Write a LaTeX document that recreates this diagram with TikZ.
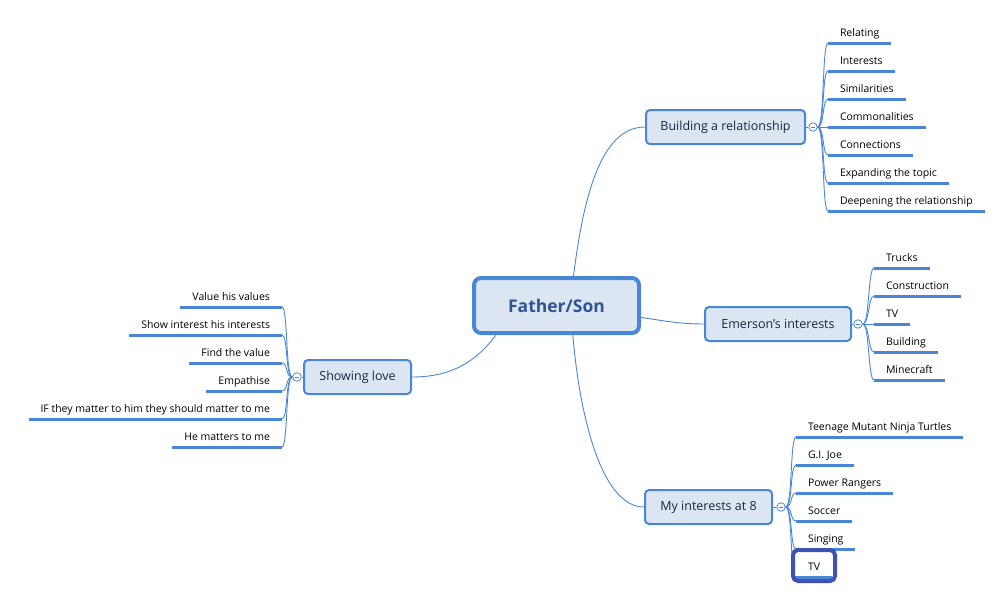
\documentclass[tikz,border=0pt]{standalone}
\usepackage{fontspec}
\setmainfont{Open Sans}
\usetikzlibrary{calc}

\definecolor{mapblue}{RGB}{74,134,216}
\definecolor{boxfill}{RGB}{220,230,242}
\definecolor{roottext}{RGB}{47,84,150}
\definecolor{topictext}{RGB}{28,38,66}
\definecolor{selblue}{RGB}{63,81,181}

\begin{document}
\begin{tikzpicture}[x=1pt, y=-1pt,
    topic/.style={draw=mapblue, line width=2, rounded corners=4, fill=boxfill,
      minimum height=34, inner sep=0, text=topictext,
      font=\fontsize{12.5}{14}\selectfont},
    fold/.style={circle, draw=mapblue, fill=white, line width=0.8,
      minimum size=8.5, inner sep=0,
      path picture={\draw [mapblue, line width=0.7]
        ($(path picture bounding box.center)+(-2.3,0)$) --
        ($(path picture bounding box.center)+(2.3,0)$);}},
    link/.style={draw=mapblue, line width=0.9},
    uline/.style={draw=mapblue, line width=3},
    leaf/.style={inner xsep=12, inner ysep=4, outer sep=0, text height=8,
      text depth=2.5, font=\fontsize{10.5}{12}\selectfont,
      append after command={(\tikzlastnode.south west) edge [uline]
        (\tikzlastnode.south east)}},
    rleaf/.style={leaf, anchor=south west},
    lleaf/.style={leaf, anchor=south east}]

      \useasboundingbox (0,0) rectangle (1002,592);

      \node (root) at (556.5,305.5)
      [draw=mapblue, line width=4, rounded corners=7, fill=boxfill,
      minimum width=165, minimum height=55, inner sep=0, text=roottext,
      font=\bfseries\fontsize{17.5}{20}\selectfont]
      {Father/Son};

      \node (bldg) at (725.5,127) [topic, minimum width=159] {Building a relationship};
      \node (emer) at (778,324) [topic, minimum width=146] {Emerson{\char"27}s interests};
      \node (mine) at (708.5,507) [topic, minimum width=127] {My interests at 8};
      \node (love) at (357.5,377) [topic, minimum width=107] {Showing love};

      \draw [link] (root.60) .. controls (583,200) and (600,127) .. (bldg.west);
      \draw [link] (root.-8) .. controls (665,321) and (680,324) .. (emer.west);
      \draw [link] (root.-61) .. controls (579,410) and (600,507) .. (mine.west);
      \draw [link] (root.-154) .. controls (470,370) and (440,377) .. (love.east);

      \node (bldgfold) at (813,127) [fold] {};
      \node (emerfold) at (858,324) [fold] {};
      \node (minefold) at (781,507) [fold] {};
      \node (lovefold) at (297,377) [fold] {};

      \draw [link] (bldg) -- (bldgfold);
      \draw [link] (emer) -- (emerfold);
      \draw [link] (mine) -- (minefold);
      \draw [link] (love) -- (lovefold);

      % building a relationship
      \node (b1) at (828,43) [rleaf] {Relating};
      \node (b2) at (828,71) [rleaf] {Interests};
      \node (b3) at (828,99) [rleaf] {Similarities};
      \node (b4) at (828,127) [rleaf] {Commonalities};
      \node (b5) at (828,155) [rleaf] {Connections};
      \node (b6) at (828,183) [rleaf] {Expanding the topic};
      \node (b7) at (828,211) [rleaf] {Deepening the relationship};

      \draw [link] (bldgfold.east) .. controls +(7,0) and +(-6,0) .. (b1.south west);
      \draw [link] (bldgfold.east) .. controls +(7,0) and +(-6,0) .. (b2.south west);
      \draw [link] (bldgfold.east) .. controls +(7,0) and +(-6,0) .. (b3.south west);
      \draw [link] (bldgfold.east) -- (b4.south west);
      \draw [link] (bldgfold.east) .. controls +(7,0) and +(-6,0) .. (b5.south west);
      \draw [link] (bldgfold.east) .. controls +(7,0) and +(-6,0) .. (b6.south west);
      \draw [link] (bldgfold.east) .. controls +(7,0) and +(-6,0) .. (b7.south west);

      % emerson
      \node (e1) at (874,268) [rleaf] {Trucks};
      \node (e2) at (874,296) [rleaf] {Construction};
      \node (e3) at (874,324) [rleaf] {TV};
      \node (e4) at (874,352) [rleaf] {Building};
      \node (e5) at (874,380) [rleaf] {Minecraft};

      \draw [link] (emerfold.east) .. controls +(7,0) and +(-6,0) .. (e1.south west);
      \draw [link] (emerfold.east) .. controls +(7,0) and +(-6,0) .. (e2.south west);
      \draw [link] (emerfold.east) -- (e3.south west);
      \draw [link] (emerfold.east) .. controls +(7,0) and +(-6,0) .. (e4.south west);
      \draw [link] (emerfold.east) .. controls +(7,0) and +(-6,0) .. (e5.south west);

      % my interests
      \node (m1) at (796,437) [rleaf] {Teenage Mutant Ninja Turtles};
      \node (m2) at (796,465) [rleaf] {G.I. Joe};
      \node (m3) at (796,493) [rleaf] {Power Rangers};
      \node (m4) at (796,521) [rleaf] {Soccer};
      \node (m5) at (796,549) [rleaf] {Singing};
      \node (m6) at (796,577) [rleaf] {TV};

      \draw [link] (minefold.east) .. controls +(7,0) and +(-6,0) .. (m1.south west);
      \draw [link] (minefold.east) .. controls +(7,0) and +(-6,0) .. (m2.south west);
      \draw [link] (minefold.east) .. controls +(7,0) and +(-6,0) .. (m3.south west);
      \draw [link] (minefold.east) .. controls +(7,0) and +(-6,0) .. (m4.south west);
      \draw [link] (minefold.east) .. controls +(7,0) and +(-6,0) .. (m5.south west);
      \draw [link] (minefold.east) .. controls +(7,0) and +(-6,0) .. (m6.south west);

      % selected topic
      \node (sel) at (814,565.5)
      [draw=selblue, line width=4, rounded corners=5, minimum width=42,
      minimum height=31, inner sep=0] {};

      % showing love
      \node (l1) at (282,307) [lleaf] {Value his values};
      \node (l2) at (282,335) [lleaf] {Show interest his interests};
      \node (l3) at (282,363) [lleaf] {Find the value};
      \node (l4) at (282,391) [lleaf] {Empathise};
      \node (l5) at (282,419) [lleaf] {IF they matter to him they should matter to me};
      \node (l6) at (282,447) [lleaf] {He matters to me};

      \draw [link] (lovefold.west) .. controls +(-7,0) and +(6,0) .. (l1.south east);
      \draw [link] (lovefold.west) .. controls +(-7,0) and +(6,0) .. (l2.south east);
      \draw [link] (lovefold.west) .. controls +(-7,0) and +(6,0) .. (l3.south east);
      \draw [link] (lovefold.west) .. controls +(-7,0) and +(6,0) .. (l4.south east);
      \draw [link] (lovefold.west) .. controls +(-7,0) and +(6,0) .. (l5.south east);
      \draw [link] (lovefold.west) .. controls +(-7,0) and +(6,0) .. (l6.south east);
    \end{tikzpicture}
\end{document}
